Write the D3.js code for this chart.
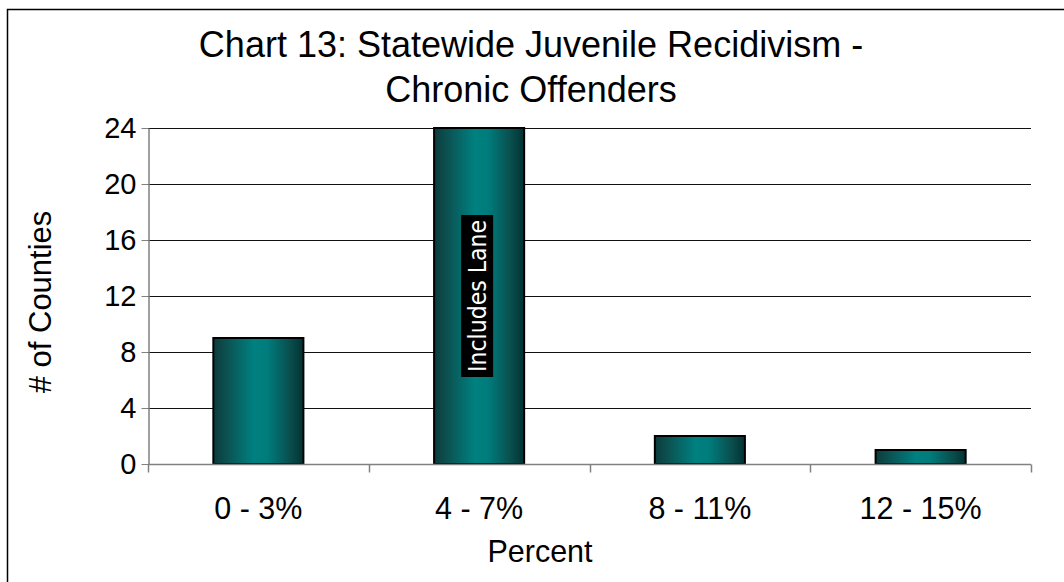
<!DOCTYPE html>
<html>
<head>
<meta charset="utf-8">
<script src="https://cdn.jsdelivr.net/npm/d3@7/dist/d3.min.js"></script>
<style>
  html, body { margin: 0; padding: 0; background: #fff; }
  svg { display: block; font-family: "Liberation Sans", Arial, sans-serif; }
</style>
</head>
<body>
<svg id="chart" width="1064" height="582"></svg>
<script>
// Chart data
const titleLines = ["Chart 13: Statewide Juvenile Recidivism -", "Chronic Offenders"];
const categories = ["0 - 3%", "4 - 7%", "8 - 11%", "12 - 15%"];
const counties = [9, 24, 2, 1];
const yTicks = [0, 4, 8, 12, 16, 20, 24];
const yTitle = "# of Counties";
const xTitle = "Percent";
const annotations = [{ category: "4 - 7%", text: "Includes Lane" }];

const svg = d3.select("#chart");
const W = 1064, H = 582;
const plot = { left: 148, right: 1031, top: 128, bottom: 464 };

// Outer chart frame (runs off the right and bottom edges)
svg.append("rect")
  .attr("x", 7.5).attr("y", 9.5)
  .attr("width", W + 20).attr("height", H + 20)
  .attr("fill", "#fff").attr("stroke", "#000").attr("stroke-width", 1.5);

const x = d3.scaleBand().domain(categories)
  .range([plot.left, plot.right]).paddingInner(0.592).paddingOuter(0.296);
const y = d3.scaleLinear().domain([0, 24]).range([plot.bottom, plot.top]);

// Gradient used for the bars: dark edges, teal centre
const defs = svg.append("defs");
const grad = defs.append("linearGradient").attr("id", "barGrad")
  .attr("x1", "0%").attr("x2", "100%").attr("y1", "0%").attr("y2", "0%");
[[0, "#0b3b3b"], [0.12, "#0d4d4d"], [0.45, "#008080"], [0.6, "#007c7c"], [0.85, "#0a4e4e"], [1, "#023232"]]
  .forEach(([o, c]) => grad.append("stop").attr("offset", o).attr("stop-color", c));

// Horizontal gridlines
svg.append("g").selectAll("line")
  .data(yTicks.filter(d => d > 0))
  .join("line")
  .attr("x1", plot.left).attr("x2", plot.right)
  .attr("y1", d => Math.round(y(d)) + 0.5).attr("y2", d => Math.round(y(d)) + 0.5)
  .attr("stroke", "#111").attr("stroke-width", 1);

// Bars
svg.append("g").selectAll("rect")
  .data(categories.map((c, i) => ({ c, v: counties[i] })))
  .join("rect")
  .attr("x", d => x(d.c))
  .attr("y", d => y(d.v))
  .attr("width", x.bandwidth())
  .attr("height", d => y(0) - y(d.v))
  .attr("fill", "url(#barGrad)")
  .attr("stroke", "#000").attr("stroke-width", 2);

// Y axis
const yAxis = svg.append("g")
  .attr("transform", `translate(${plot.left + 0.5},0)`)
  .call(d3.axisLeft(y).tickValues(yTicks).tickSize(7).tickSizeOuter(0).tickPadding(5));
yAxis.select(".domain").attr("stroke", "#808080").attr("stroke-width", 1.5);
yAxis.selectAll(".tick line").attr("stroke", "#808080");
yAxis.selectAll(".tick text")
  .attr("font-size", 29).attr("fill", "#000")
  .attr("font-family", "'Liberation Sans', Arial, sans-serif");

// X axis with tick marks at category boundaries
const xAxisG = svg.append("g").attr("transform", `translate(0,${plot.bottom + 0.5})`);
xAxisG.append("line")
  .attr("x1", plot.left).attr("x2", plot.right)
  .attr("stroke", "#808080").attr("stroke-width", 1.5);
const bounds = categories.map(c => x(c) - x.step() * x.paddingOuter()).concat([plot.right]);
xAxisG.selectAll("line.tk").data(bounds).join("line").attr("class", "tk")
  .attr("x1", d => Math.round(d) + 0.5).attr("x2", d => Math.round(d) + 0.5)
  .attr("y1", 0).attr("y2", 8)
  .attr("stroke", "#808080").attr("stroke-width", 1.5);
xAxisG.selectAll("text").data(categories).join("text")
  .attr("x", d => x(d) + x.bandwidth() / 2)
  .attr("y", 54)
  .attr("text-anchor", "middle")
  .attr("font-size", 30.5)
  .text(d => d);

// Title
svg.append("g").selectAll("text").data(titleLines).join("text")
  .attr("x", 531).attr("y", (d, i) => 57 + i * 45)
  .attr("text-anchor", "middle")
  .attr("font-size", 36)
  .text(d => d);

// Axis titles
svg.append("text")
  .attr("transform", "translate(51,302) rotate(-90)")
  .attr("text-anchor", "middle")
  .attr("font-size", 31)
  .text(yTitle);
svg.append("text")
  .attr("x", 540).attr("y", 562)
  .attr("text-anchor", "middle")
  .attr("font-size", 30.5)
  .text(xTitle);

// Annotation inside the bar, rotated, white on black
annotations.forEach(a => {
  const i = categories.indexOf(a.category);
  const cx = x(a.category) + x.bandwidth() / 2;
  const cy = y(counties[i] / 2);
  const g = svg.append("g").attr("transform", `translate(${cx - 2},${cy}) rotate(-90)`);
  g.append("rect")
    .attr("x", -81).attr("y", -16)
    .attr("width", 162).attr("height", 32)
    .attr("fill", "#000");
  g.append("text")
    .attr("text-anchor", "middle")
    .attr("dy", "0.36em")
    .attr("font-size", 25)
    .attr("font-family", "'DejaVu Sans Condensed', 'Liberation Sans Narrow', Arial, sans-serif")
    .attr("fill", "#fff")
    .attr("textLength", 152).attr("lengthAdjust", "spacingAndGlyphs")
    .text(a.text);
});
</script>
</body>
</html>
